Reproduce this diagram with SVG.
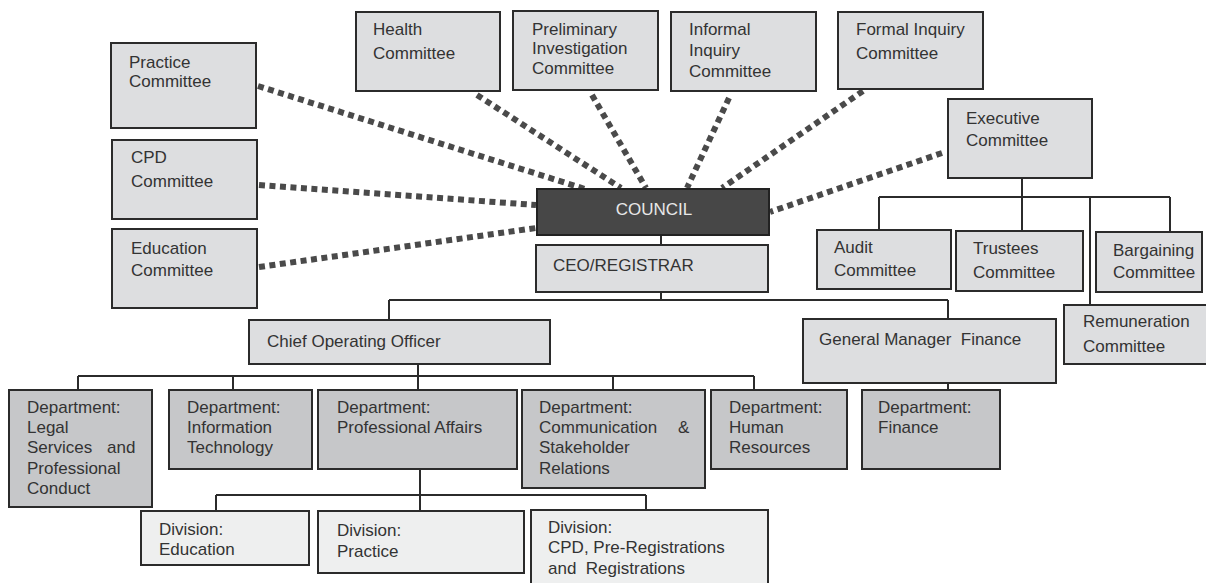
<svg xmlns="http://www.w3.org/2000/svg" width="1206" height="583" viewBox="0 0 1206 583">
<style>
  text { font-family: "Liberation Sans", Arial, sans-serif; font-size: 17px; fill: #333; }
  .c { fill: #dddee0; stroke: #2b2b2b; stroke-width: 2; }
  .d { fill: #c6c7c9; stroke: #2b2b2b; stroke-width: 2; }
  .v { fill: #eeefef; stroke: #2b2b2b; stroke-width: 2; }
  .k { fill: #474747; stroke: #222; stroke-width: 2; }
  .dot { stroke: #4a4a4a; stroke-width: 6; stroke-dasharray: 6 4.5; fill: none; }
  .ln { stroke: #2b2b2b; stroke-width: 2; fill: none; }
</style>
<rect width="1206" height="583" fill="#fff"/>
<g id="connectors">
  <line class="dot" x1="258" y1="86" x2="585" y2="189"/>
  <line class="dot" x1="477" y1="95" x2="621" y2="188"/>
  <line class="dot" x1="592" y1="95" x2="646" y2="188"/>
  <line class="dot" x1="729" y1="98" x2="687" y2="188"/>
  <line class="dot" x1="863" y1="91" x2="722" y2="188"/>
  <line class="dot" x1="942" y1="153" x2="770" y2="212"/>
  <line class="dot" x1="259" y1="185" x2="536" y2="205"/>
  <line class="dot" x1="259" y1="267" x2="536" y2="228"/>
  <path class="ln" d="M661 235 V245 M661 292 V300 M389 300 H948 M389 300 V320 M948 300 V319 M948 383 V390"/>
  <path class="ln" d="M1022 178 V231 M879 197 H1170 M879 197 V230 M1090 197 V305 M1170 197 V232"/>
  <path class="ln" d="M418 364 V390 M78 376 H754 M78 376 V390 M233 376 V390 M613 376 V390 M754 376 V390"/>
  <path class="ln" d="M420 469 V511 M216 495 H646 M216 495 V511 M646 495 V510"/>
</g>
<g id="practice"><rect class="c" x="111" y="43" width="145" height="85"/><text x="129" y="68">Practice</text><text x="129" y="87">Committee</text></g>
<g id="health"><rect class="c" x="356" y="12" width="144" height="79"/><text x="373" y="35">Health</text><text x="373" y="59">Committee</text></g>
<g id="preliminary"><rect class="c" x="513" y="11" width="145" height="79"/><text x="532" y="35">Preliminary</text><text x="532" y="54">Investigation</text><text x="532" y="74">Committee</text></g>
<g id="informal"><rect class="c" x="671" y="12" width="145" height="79"/><text x="689" y="35">Informal</text><text x="689" y="56">Inquiry</text><text x="689" y="77">Committee</text></g>
<g id="formal"><rect class="c" x="838" y="12" width="145" height="77"/><text x="856" y="35">Formal Inquiry</text><text x="856" y="59">Committee</text></g>
<g id="executive"><rect class="c" x="948" y="99" width="144" height="79"/><text x="966" y="124">Executive</text><text x="966" y="146">Committee</text></g>
<g id="cpd"><rect class="c" x="112" y="140" width="145" height="79"/><text x="131" y="163">CPD</text><text x="131" y="187">Committee</text></g>
<g id="education"><rect class="c" x="112" y="229" width="145" height="79"/><text x="131" y="254">Education</text><text x="131" y="276">Committee</text></g>
<g id="council"><rect class="k" x="537" y="189" width="232" height="46"/><text x="654" y="215" text-anchor="middle" style="fill:#e8e8e8">COUNCIL</text></g>
<g id="ceo"><rect class="c" x="536" y="245" width="232" height="47"/><text x="553" y="271">CEO/REGISTRAR</text></g>
<g id="audit"><rect class="c" x="817" y="230" width="134" height="59"/><text x="834" y="253">Audit</text><text x="834" y="276">Committee</text></g>
<g id="trustees"><rect class="c" x="956" y="231" width="127" height="60"/><text x="973" y="254">Trustees</text><text x="973" y="278">Committee</text></g>
<g id="bargaining"><rect class="c" x="1096" y="232" width="106" height="60"/><text x="1113" y="256">Bargaining</text><text x="1113" y="278">Committee</text></g>
<g id="remuneration"><rect class="c" x="1064" y="305" width="143" height="59"/><text x="1083" y="327">Remuneration</text><text x="1083" y="352">Committee</text></g>
<g id="coo"><rect class="c" x="249" y="320" width="301" height="44"/><text x="267" y="347">Chief Operating Officer</text></g>
<g id="gmfinance"><rect class="c" x="803" y="319" width="253" height="64"/><text x="819" y="345" xml:space="preserve">General Manager  Finance</text></g>
<g id="dept-legal"><rect class="d" x="9" y="390" width="143" height="117"/><text x="27" y="413">Department:</text><text x="27" y="433">Legal</text><text x="27" y="453">Services</text><text x="107" y="453">and</text><text x="27" y="474">Professional</text><text x="27" y="494">Conduct</text></g>
<g id="dept-it"><rect class="d" x="169" y="390" width="143" height="79"/><text x="187" y="413">Department:</text><text x="187" y="433">Information</text><text x="187" y="453">Technology</text></g>
<g id="dept-pa"><rect class="d" x="318" y="390" width="199" height="79"/><text x="337" y="413">Department:</text><text x="337" y="433">Professional Affairs</text></g>
<g id="dept-comm"><rect class="d" x="522" y="390" width="183" height="98"/><text x="539" y="413">Department:</text><text x="539" y="433">Communication</text><text x="678" y="433">&amp;</text><text x="539" y="453">Stakeholder</text><text x="539" y="474">Relations</text></g>
<g id="dept-hr"><rect class="d" x="711" y="390" width="136" height="79"/><text x="729" y="413">Department:</text><text x="729" y="433">Human</text><text x="729" y="453">Resources</text></g>
<g id="dept-finance"><rect class="d" x="862" y="390" width="138" height="79"/><text x="878" y="413">Department:</text><text x="878" y="433">Finance</text></g>
<g id="div-education"><rect class="v" x="141" y="511" width="168" height="54"/><text x="159" y="535">Division:</text><text x="159" y="555">Education</text></g>
<g id="div-practice"><rect class="v" x="318" y="511" width="206" height="62"/><text x="337" y="536">Division:</text><text x="337" y="557">Practice</text></g>
<g id="div-cpd"><rect class="v" x="531" y="510" width="237" height="80"/><text x="548" y="533">Division:</text><text x="548" y="553">CPD, Pre-Registrations</text><text x="548" y="574" xml:space="preserve">and  Registrations</text></g>
</svg>
